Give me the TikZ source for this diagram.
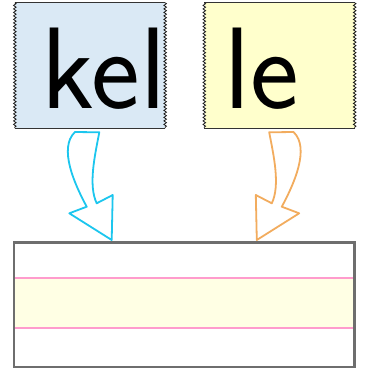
\documentclass[tikz,border=0pt]{standalone}
\usetikzlibrary{decorations.pathmorphing}
\definecolor{boxblue}{HTML}{DAE9F5}
\definecolor{boxyellow}{HTML}{FFFFCC}
\definecolor{bandyellow}{HTML}{FFFFE4}
\definecolor{arrcyan}{HTML}{1CC6EE}
\definecolor{arrorange}{HTML}{F2AC5E}
\definecolor{linepink}{HTML}{FF9CCD}
\definecolor{framegray}{HTML}{6E6E6E}
\tikzset{
  wordbox/.style={rectangle, inner sep=0pt, minimum width=150pt, minimum height=125pt},
  tornedge/.style={draw=black!90, line width=0.8pt, decorate, decoration={zigzag, segment length=3.5pt, amplitude=1.3pt}},
  flatedge/.style={draw=black!80, line width=1.2pt},
  word/.style={anchor=base, inner sep=0pt, font=\sffamily\fontsize{116}{116}\selectfont},
  blockarrow/.style={line width=1.8pt, line join=round, fill=white},
  pinkline/.style={draw=linepink, line width=2.2pt},
}
\begin{document}
\begin{tikzpicture}[x=1pt,y=-1pt]
\useasboundingbox (0,0) rectangle (366,373);
% top boxes
\node[wordbox, fill=boxblue] (kelbox) at (90,65.5) {};
\node[wordbox, fill=boxyellow] (lebox) at (279.5,65.5) {};
\foreach \b in {kelbox,lebox}{
  \draw[flatedge] (\b.north west) -- (\b.north east);
  \draw[flatedge] (\b.south west) -- (\b.south east);
  \draw[tornedge] (\b.north west) -- (\b.south west);
  \draw[tornedge] (\b.north east) -- (\b.south east);
}
\node[word] (kel) at (104,108) {kel};
\node[word] (le) at (261.5,108) {le};
% bottom box
\node[rectangle, inner sep=0pt, minimum width=340.3pt, minimum height=124pt, fill=white] (target) at (184.15,304.7) {};
\fill[bandyellow] (target.west |- 0,278.3) rectangle (target.east |- 0,328.3);
\draw[pinkline] (target.west |- 0,278.3) -- (target.east |- 0,278.3);
\draw[pinkline] (target.west |- 0,328.3) -- (target.east |- 0,328.3);
\draw[draw=framegray, line width=2.6pt] (target.north west) rectangle (target.south east);
% arrows
\coordinate (tipA) at (111.7,240);
\draw[blockarrow, draw=arrcyan] (75,132) -- (99.3,132.3)
  .. controls (95,155) and (88,185) .. (96.7,203.3)
  -- (112.7,195) -- (tipA) -- (69.3,213.3) -- (86.7,206.7)
  .. controls (75,185) and (58,148) .. (75,132) -- cycle;
\begin{scope}[xshift=368.5pt, xscale=-1]
\coordinate (tipB) at (111.7,240);
\draw[blockarrow, draw=arrorange] (75,132) -- (99.3,132.3)
  .. controls (95,155) and (88,185) .. (96.7,203.3)
  -- (112.7,195) -- (tipB) -- (69.3,213.3) -- (86.7,206.7)
  .. controls (75,185) and (58,148) .. (75,132) -- cycle;
\end{scope}
\end{tikzpicture}
\end{document}
